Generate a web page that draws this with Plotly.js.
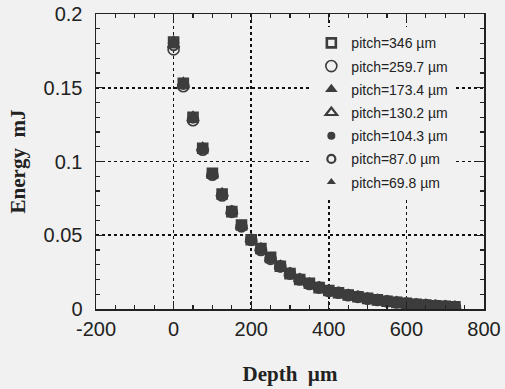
<!DOCTYPE html>
<html>
<head>
<meta charset="utf-8">
<script src="https://cdn.plot.ly/plotly-3.0.1.min.js"></script>
<style>html,body{margin:0;padding:0;background:#f1f1f1;}#chart{width:505px;height:389px;}</style>
</head>
<body>
<div id="chart"></div>
<script>
const depth = [0,25,50,75,100,125,150,175,200,225,250,275,300,325,350,375,400,425,450,475,500,525,550,575,600,625,650,675,700,725];
const xTickVals = [-200,0,200,400,600,800];
const xTickText = ["-200","0","200","400","600","800"];
const pitchLabels = ["pitch=346 \u00b5m","pitch=259.7 \u00b5m","pitch=173.4 \u00b5m","pitch=130.2 \u00b5m","pitch=104.3 \u00b5m","pitch=87.0 \u00b5m","pitch=69.8 \u00b5m"];
const e346   = [0.181,0.153,0.130,0.109,0.092,0.078,0.066,0.057,0.047,0.041,0.035,0.029,0.024,0.020,0.0175,0.0145,0.0125,0.011,0.0095,0.0083,0.0072,0.0062,0.0053,0.0045,0.0038,0.0032,0.0027,0.0022,0.0018,0.0015];
const e2597  = [0.176,0.151,0.128,0.108,0.091,0.077,0.066,0.056,0.047,0.040,0.034,0.029,0.024,0.020,0.0170,0.0145,0.0122,0.011,0.0093,0.0082,0.0070,0.0061,0.0052,0.0044,0.0037,0.0031,0.0026,0.0021,0.0017,0.0014];
const e1734  = [0.182,0.154,0.131,0.110,0.092,0.079,0.067,0.057,0.048,0.041,0.035,0.030,0.025,0.021,0.0178,0.0150,0.0128,0.0112,0.0097,0.0085,0.0074,0.0063,0.0054,0.0046,0.0039,0.0033,0.0028,0.0023,0.0019,0.0016];
const e1302  = [0.179,0.152,0.129,0.109,0.091,0.078,0.066,0.056,0.047,0.041,0.034,0.029,0.024,0.020,0.0172,0.0146,0.0124,0.0108,0.0094,0.0082,0.0071,0.0061,0.0052,0.0045,0.0037,0.0031,0.0026,0.0022,0.0018,0.0015];
const e1043  = [0.181,0.153,0.130,0.109,0.092,0.078,0.066,0.057,0.047,0.041,0.035,0.029,0.024,0.020,0.0176,0.0147,0.0126,0.0110,0.0096,0.0084,0.0073,0.0062,0.0053,0.0045,0.0038,0.0032,0.0027,0.0022,0.0018,0.0015];
const e870   = [0.178,0.152,0.129,0.108,0.091,0.077,0.065,0.056,0.046,0.040,0.034,0.028,0.024,0.020,0.0171,0.0143,0.0123,0.0108,0.0093,0.0081,0.0071,0.0060,0.0052,0.0044,0.0037,0.0031,0.0026,0.0021,0.0017,0.0014];
const e698   = [0.180,0.153,0.130,0.109,0.092,0.078,0.066,0.057,0.047,0.041,0.035,0.029,0.024,0.020,0.0174,0.0146,0.0125,0.0110,0.0095,0.0083,0.0072,0.0062,0.0053,0.0045,0.0038,0.0032,0.0027,0.0022,0.0018,0.0015];

const seriesVals = [e346,e2597,e1734,e1302,e1043,e870,e698];
const C = '#3d3d3d';
const styles = [
  {symbol:'square-open', size:9, line:{color:C,width:2.6}},
  {symbol:'circle-open', size:11, line:{color:C,width:1.6}},
  {symbol:'triangle-up', size:11, color:C, line:{width:0}},
  {symbol:'triangle-up-open', size:10, line:{color:C,width:2.2}},
  {symbol:'circle', size:8, color:C, line:{width:0}},
  {symbol:'circle-open', size:8, line:{color:C,width:2.2}},
  {symbol:'triangle-up', size:8, color:C, line:{width:0}}
];
const traces = seriesVals.map((v,i)=>({
  x: depth, y: v, type:'scatter', mode:'markers', name: pitchLabels[i],
  legendgroup: 'g'+i,
  marker: Object.assign({color:C}, styles[i])
}));

const axisCommon = {
  showline:true, linecolor:'#222', linewidth:1.5, mirror:'allticks',
  ticks:'inside', ticklen:8, tickwidth:1.3, tickcolor:'#222',
  showgrid:true, gridcolor:'#111', gridwidth:1.6, griddash:'dot',
  zeroline:false,
  tickfont:{family:'Liberation Sans, Arial, sans-serif', size:20, color:'#222'}
};
const layout = {
  width:505, height:389,
  margin:{l:96, r:21, t:14, b:80},
  paper_bgcolor:'#f1f1f1', plot_bgcolor:'#f1f1f1',
  showlegend:true,
  legend:{x:0.555, y:0.955, xanchor:'left', yanchor:'top', bgcolor:'#f1f1f1', borderwidth:0,
    font:{family:'Liberation Sans, Arial, sans-serif', size:14, color:'#222'}, tracegroupgap:2},
  xaxis: Object.assign({}, axisCommon, {
    range:[-200,800], tickmode:'array', tickvals:xTickVals, ticktext:xTickText,
    minor:{dtick:50, tick0:0, ticks:'inside', ticklen:4, tickcolor:'#222', showgrid:false},
    ticklabelstandoff:1,
    title:{text:'<b>Depth  \u00b5m</b>', font:{family:'Liberation Serif, Times New Roman, serif', size:21, color:'#222'}, standoff:28}
  }),
  yaxis: Object.assign({}, axisCommon, {
    range:[0,0.2], dtick:0.05, tick0:0,
    minor:{dtick:0.01, ticks:'inside', ticklen:4, tickcolor:'#222', showgrid:false},
    ticklabelstandoff:8,
    title:{text:'<b>Energy  mJ</b>', font:{family:'Liberation Serif, Times New Roman, serif', size:21, color:'#222'}, standoff:12}
  })
};
Plotly.newPlot('chart', traces, layout, {staticPlot:true, displayModeBar:false});
</script>
</body>
</html>
